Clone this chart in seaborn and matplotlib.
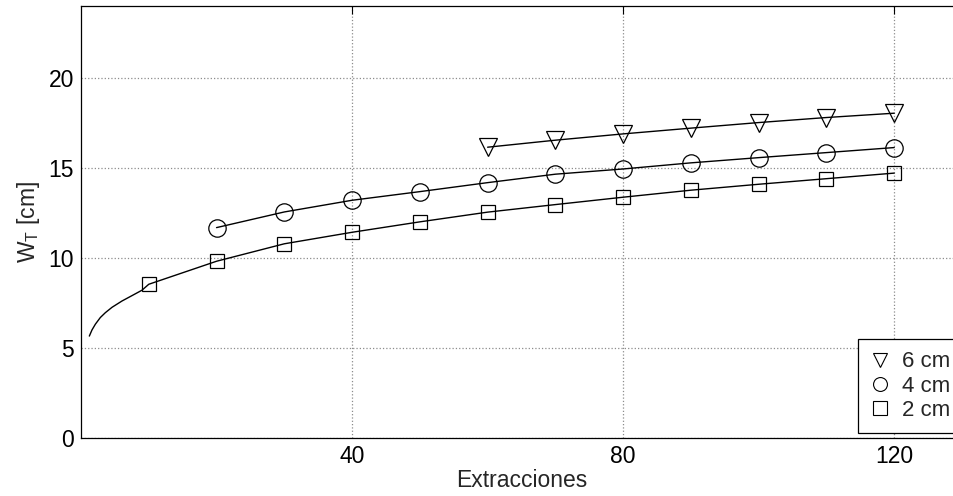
import numpy as np
import pandas as pd
import seaborn as sns
import matplotlib.pyplot as plt
from matplotlib.lines import Line2D

# measured points (Extracciones vs W_T)
extr_2cm = [10, 20, 30, 40, 50, 60, 70, 80, 90, 100, 110, 120]
wt_2cm = [8.53, 9.81, 10.78, 11.42, 12.0, 12.54, 12.96, 13.37, 13.76, 14.09, 14.40, 14.71]

extr_4cm = [20, 30, 40, 50, 60, 70, 80, 90, 100, 110, 120]
wt_4cm = [11.68, 12.55, 13.20, 13.68, 14.18, 14.65, 14.94, 15.28, 15.57, 15.85, 16.13]

extr_6cm = [60, 70, 80, 90, 100, 110, 120]
wt_6cm = [16.15, 16.54, 16.89, 17.21, 17.52, 17.80, 18.04]

# beginning of the 2 cm fit curve (below the first marker)
curve_2cm_x = [1.23, 1.62, 2.12, 2.85, 3.59, 4.58, 6.05, 7.53, 9.0]
curve_2cm_y = [5.65, 5.99, 6.31, 6.68, 6.95, 7.25, 7.60, 7.90, 8.20]

labels = ["6 cm", "4 cm", "2 cm"]
markers = ["v", "o", "s"]

sns.set_style("white")
plt.rcParams["font.family"] = ["Liberation Sans", "DejaVu Sans"]
plt.rcParams["mathtext.fontset"] = "custom"
plt.rcParams["mathtext.rm"] = "Liberation Sans"
plt.rcParams["mathtext.it"] = "Liberation Sans:italic"

fig = plt.figure(figsize=(9.54, 4.96), dpi=100)
# axes reaches past the right edge, like the cropped original
ax = fig.add_axes([81 / 954, 58.3 / 496, 881 / 954, 431.7 / 496])

curves = [
    (extr_6cm, wt_6cm),
    (extr_4cm, wt_4cm),
    (curve_2cm_x + extr_2cm, curve_2cm_y + wt_2cm),
]
for cx, cy in curves:
    sns.lineplot(x=cx, y=cy, ax=ax, color="k", linewidth=1.0,
                 estimator=None, sort=True)

points = [(extr_6cm, wt_6cm, "v", 13.5),
          (extr_4cm, wt_4cm, "o", 12.5),
          (extr_2cm, wt_2cm, "s", 9.5)]
for px, py, mk, ms in points:
    sns.lineplot(x=px, y=py, ax=ax, color="k", linestyle="", marker=mk,
                 markersize=ms, markerfacecolor="none",
                 markeredgecolor="k", markeredgewidth=0.9, estimator=None)

ax.set_xlim(0, 130)
ax.set_ylim(0, 24)
ax.set_xticks([40, 80, 120])
ax.set_yticks([0, 5, 10, 15, 20])
ax.grid(True, linestyle=":", color="0.55", linewidth=0.9)
ax.tick_params(direction="in", top=True, right=True, length=6, width=0.8,
               labelsize=16.5, pad=5, colors="k")
for s in ax.spines.values():
    s.set_color("k")
    s.set_linewidth(0.9)

ax.set_xlabel("Extracciones", fontsize=16.5, labelpad=1)
ax.set_ylabel(r"W$_{\mathrm{T}}$ [cm]", fontsize=16.5, labelpad=5)

handles = [Line2D([], [], color="k", linestyle="", marker=m, markersize=10,
                  markerfacecolor="none", markeredgewidth=0.8)
           for m in markers]
leg = ax.legend(handles, labels, loc="lower right", bbox_to_anchor=(1.0, 0.01),
                fontsize=16, frameon=True, fancybox=False, edgecolor="k",
                framealpha=1, handlelength=0.9, handletextpad=0.5,
                labelspacing=0.15, borderpad=0.55, borderaxespad=0)
leg.get_frame().set_linewidth(0.9)

fig.savefig("out.png", dpi=100)
